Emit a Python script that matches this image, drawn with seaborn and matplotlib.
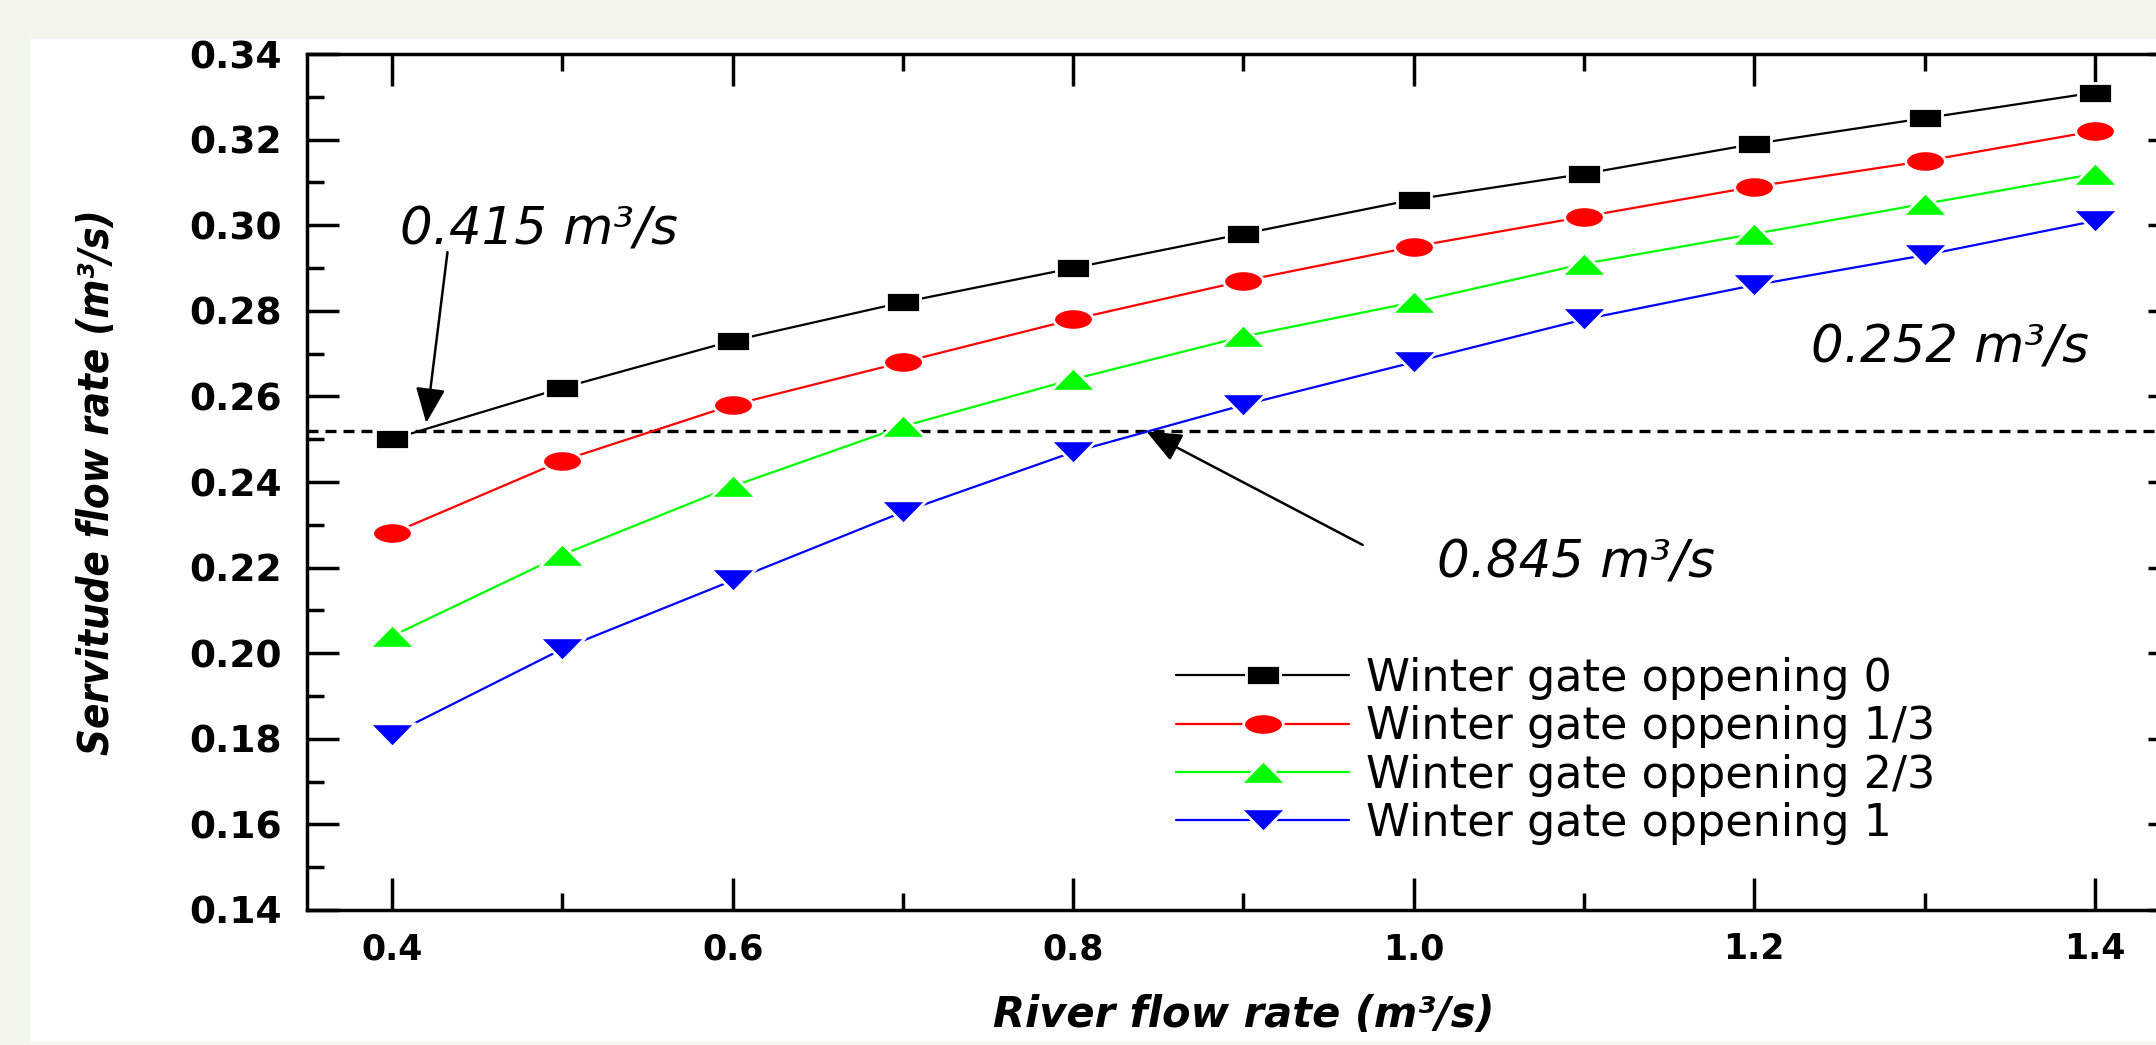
import matplotlib
matplotlib.use("Agg")
import matplotlib.pyplot as plt
import seaborn as sns
import pandas as pd
from matplotlib.path import Path
from matplotlib.patches import Rectangle
from matplotlib.transforms import Affine2D
from matplotlib.ticker import MultipleLocator, FormatStrFormatter
from matplotlib import font_manager

# Dados
river_flow = [0.4, 0.5, 0.6, 0.7, 0.8, 0.9, 1.0, 1.1, 1.2, 1.3, 1.4]
gate_0 = [0.250, 0.262, 0.273, 0.282, 0.290, 0.298, 0.306, 0.312, 0.319, 0.325, 0.331]
gate_1_3 = [0.228, 0.245, 0.258, 0.268, 0.278, 0.287, 0.295, 0.302, 0.309, 0.315, 0.322]
gate_2_3 = [0.204, 0.223, 0.239, 0.253, 0.264, 0.274, 0.282, 0.291, 0.298, 0.305, 0.312]
gate_1 = [0.181, 0.201, 0.217, 0.233, 0.247, 0.258, 0.268, 0.278, 0.286, 0.293, 0.301]

labels = ['Winter gate oppening 0', 'Winter gate oppening 1/3',
          'Winter gate oppening 2/3', 'Winter gate oppening 1']
colors = ['#000000', '#ff0000', '#00ff00', '#0000ff']
threshold = 0.252

df = pd.DataFrame({'river': river_flow, 'g0': gate_0, 'g13': gate_1_3,
                   'g23': gate_2_3, 'g1': gate_1})

# marcadores "esticados" na horizontal, como na figura original
square = [(-1, -0.56), (1, -0.56), (1, 0.56), (-1, 0.56), (-1, -0.56)]
ellipse = Path.unit_circle().transformed(Affine2D().scale(1, 0.54))
tri_up = [(-1, -0.51), (1, -0.51), (0, 0.51), (-1, -0.51)]
tri_down = [(-1, 0.51), (1, 0.51), (0, -0.51), (-1, 0.51)]
markers = [square, ellipse, tri_up, tri_down]
msizes = [25, 28.5, 33, 33]

sns.set_style("ticks")
plt.rcParams['font.family'] = ['DejaVu Sans']
for k in ['text.color', 'axes.labelcolor', 'xtick.color', 'ytick.color', 'axes.edgecolor']:
    plt.rcParams[k] = 'black'

names = {f.name for f in font_manager.fontManager.ttflist}
if 'Liberation Sans Narrow' in names:
    ylab_family, ylab_size = 'Liberation Sans Narrow', 40
else:
    ylab_family, ylab_size = 'DejaVu Sans', 30

fig = plt.figure(figsize=(21.56, 10.45), dpi=100, facecolor='#f1f7ec')
fig.add_artist(Rectangle((30 / 2156, 3 / 1045), 1 - 30 / 2156, 1003 / 1045,
                         transform=fig.transFigure, facecolor='white',
                         edgecolor='none', zorder=-10))
ax = fig.add_axes([0.1424, 0.1292, 0.8687, 0.8191])
ax.set_facecolor('white')

for col, lab, c, m, ms in zip(['g0', 'g13', 'g23', 'g1'], labels, colors, markers, msizes):
    sns.lineplot(data=df, x='river', y=col, ax=ax, color=c, marker=m,
                 markersize=ms, markeredgecolor='white', markeredgewidth=2,
                 linewidth=1.6, label=lab, zorder=3)

# linha tracejada do limite
ax.axhline(threshold, color='black', lw=2.4, ls=(0, (3.3, 2.1)), zorder=2)

# anotações
txt = dict(fontsize=37, style='italic', ha='center', va='baseline', color='black')
ax.text(0.486, 0.2954, '0.415 m³/s', **txt)
ax.text(1.095, 0.2178, '0.845 m³/s', **txt)
ax.text(1.315, 0.2680, '0.252 m³/s', **txt)

arrow = dict(arrowstyle='-|>,head_length=0.9,head_width=0.38', color='black',
             lw=1.8, shrinkA=0, shrinkB=0, mutation_scale=24)
ax.annotate('', xy=(0.420, 0.2538), xytext=(0.4325, 0.2937), arrowprops=arrow)
ax.annotate('', xy=(0.843, 0.2518), xytext=(0.970, 0.2253), arrowprops=arrow)

ax.set_xlim(0.35, 1.45)
ax.set_ylim(0.14, 0.34)
ax.xaxis.set_major_locator(MultipleLocator(0.2))
ax.xaxis.set_minor_locator(MultipleLocator(0.1))
ax.yaxis.set_major_locator(MultipleLocator(0.02))
ax.yaxis.set_minor_locator(MultipleLocator(0.01))
ax.xaxis.set_major_formatter(FormatStrFormatter('%.1f'))
ax.yaxis.set_major_formatter(FormatStrFormatter('%.2f'))

ax.tick_params(which='both', direction='in', top=True, right=True, width=2.5,
               color='black', labelcolor='black')
ax.tick_params(which='major', length=23)
ax.tick_params(which='minor', length=12)
ax.tick_params(axis='y', labelsize=27, pad=18)
ax.tick_params(axis='x', labelsize=25, pad=16)
plt.setp(ax.get_yticklabels(), fontweight='bold')
plt.setp(ax.get_xticklabels(), fontweight='bold')
for s in ax.spines.values():
    s.set_linewidth(2.5)
    s.set_color('black')

ax.set_xlabel('River flow rate (m³/s)', fontsize=30, fontweight='bold', style='italic')
ax.xaxis.set_label_coords(0.5, -0.098)
ax.set_ylabel('Servitude flow rate (m³/s)', family=ylab_family, fontsize=ylab_size,
              fontweight='bold', style='italic', fontstretch='condensed')
ax.yaxis.set_label_coords(-0.101, 0.5)

ax.legend(loc='upper left', bbox_to_anchor=(0.464, 0.2956), frameon=False,
          fontsize=32, handlelength=3.9, handletextpad=0.38, labelspacing=0.12,
          borderpad=0, borderaxespad=0, numpoints=1, labelcolor='black')

fig.savefig('out.png', dpi=100, facecolor=fig.get_facecolor())
